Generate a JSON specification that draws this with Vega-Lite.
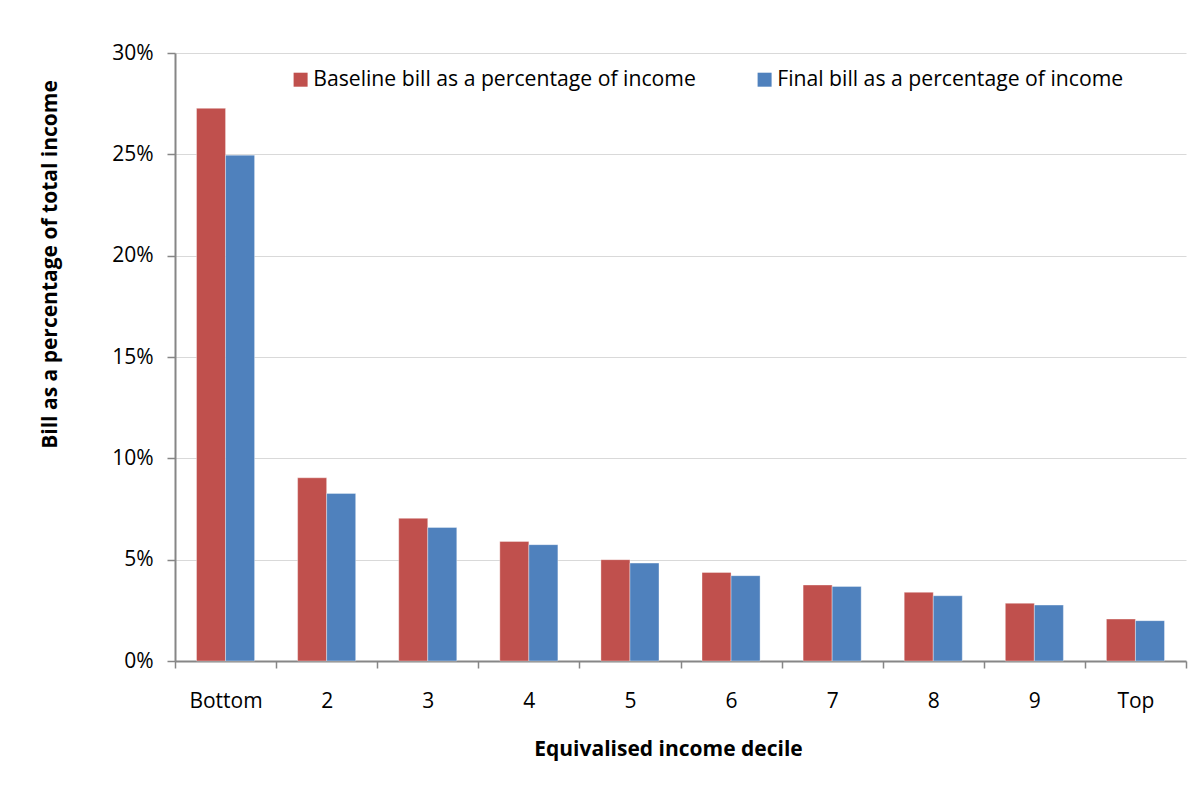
{
  "$schema": "https://vega.github.io/schema/vega-lite/v6.json",
  "width": 1011,
  "height": 608,
  "autosize": {"type": "none"},
  "padding": {"left": 175, "top": 53, "right": 12, "bottom": 135},
  "background": "#ffffff",
  "data": {
    "values": [
      {"decile": "Bottom", "series": "Baseline bill as a percentage of income", "share": 0.2727},
      {"decile": "Bottom", "series": "Final bill as a percentage of income", "share": 0.2496},
      {"decile": "2", "series": "Baseline bill as a percentage of income", "share": 0.0904},
      {"decile": "2", "series": "Final bill as a percentage of income", "share": 0.0827},
      {"decile": "3", "series": "Baseline bill as a percentage of income", "share": 0.0704},
      {"decile": "3", "series": "Final bill as a percentage of income", "share": 0.0659},
      {"decile": "4", "series": "Baseline bill as a percentage of income", "share": 0.0590},
      {"decile": "4", "series": "Final bill as a percentage of income", "share": 0.0574},
      {"decile": "5", "series": "Baseline bill as a percentage of income", "share": 0.0500},
      {"decile": "5", "series": "Final bill as a percentage of income", "share": 0.0483},
      {"decile": "6", "series": "Baseline bill as a percentage of income", "share": 0.0437},
      {"decile": "6", "series": "Final bill as a percentage of income", "share": 0.0421},
      {"decile": "7", "series": "Baseline bill as a percentage of income", "share": 0.0375},
      {"decile": "7", "series": "Final bill as a percentage of income", "share": 0.0368},
      {"decile": "8", "series": "Baseline bill as a percentage of income", "share": 0.0339},
      {"decile": "8", "series": "Final bill as a percentage of income", "share": 0.0322},
      {"decile": "9", "series": "Baseline bill as a percentage of income", "share": 0.0285},
      {"decile": "9", "series": "Final bill as a percentage of income", "share": 0.0276},
      {"decile": "Top", "series": "Baseline bill as a percentage of income", "share": 0.0207},
      {"decile": "Top", "series": "Final bill as a percentage of income", "share": 0.0199}
    ]
  },
  "mark": {"type": "bar", "stroke": "#ffffff", "strokeWidth": 0.6, "strokeOpacity": 0.6},
  "encoding": {
    "x": {
      "field": "decile",
      "type": "nominal",
      "sort": ["Bottom", "2", "3", "4", "5", "6", "7", "8", "9", "Top"],
      "scale": {"paddingInner": 0, "paddingOuter": 0},
      "axis": {
        "title": "Equivalised income decile",
        "labelAngle": 0,
        "tickBand": "extent",
        "tickSize": 7,
        "labelPadding": 22,
        "titleX": 493,
        "titleY": 88,
        "titleBaseline": "middle",
        "titleAnchor": "middle"
      }
    },
    "xOffset": {
      "field": "series",
      "type": "nominal",
      "sort": ["Baseline bill as a percentage of income", "Final bill as a percentage of income"],
      "scale": {"paddingInner": 0, "paddingOuter": 0.741}
    },
    "y": {
      "field": "share",
      "type": "quantitative",
      "scale": {"domain": [0, 0.3], "nice": false},
      "axis": {
        "title": "Bill as a percentage of total income",
        "format": ".0%",
        "values": [0, 0.05, 0.1, 0.15, 0.2, 0.25, 0.3],
        "tickSize": 8,
        "labelPadding": 14,
        "titleX": -125,
        "titleY": 211,
        "titleBaseline": "middle",
        "titleAnchor": "middle",
        "grid": true
      }
    },
    "color": {
      "field": "series",
      "type": "nominal",
      "sort": ["Baseline bill as a percentage of income", "Final bill as a percentage of income"],
      "scale": {"range": ["#C0504D", "#4F81BD"]},
      "legend": {
        "title": null,
        "orient": "none",
        "direction": "horizontal",
        "legendX": 115,
        "legendY": 16,
        "symbolType": "square",
        "symbolSize": 196,
        "symbolStrokeWidth": 0,
        "labelOffset": 2,
        "columnPadding": 58,
        "labelFont": "Open Sans",
        "labelFontSize": 21.2,
        "labelColor": "#000000",
        "labelLimit": 600
      }
    }
  },
  "config": {
    "view": {"stroke": null},
    "axis": {
      "labelFont": "Open Sans",
      "labelFontSize": 21,
      "labelColor": "#000000",
      "titleFont": "Open Sans",
      "titleFontSize": 21,
      "titleFontWeight": "bold",
      "titleColor": "#000000",
      "domainColor": "#868686",
      "domainWidth": 2,
      "tickColor": "#868686",
      "tickWidth": 1.5,
      "gridColor": "#d9d9d9",
      "gridWidth": 1
    },
    "axisX": {"grid": false}
  }
}
